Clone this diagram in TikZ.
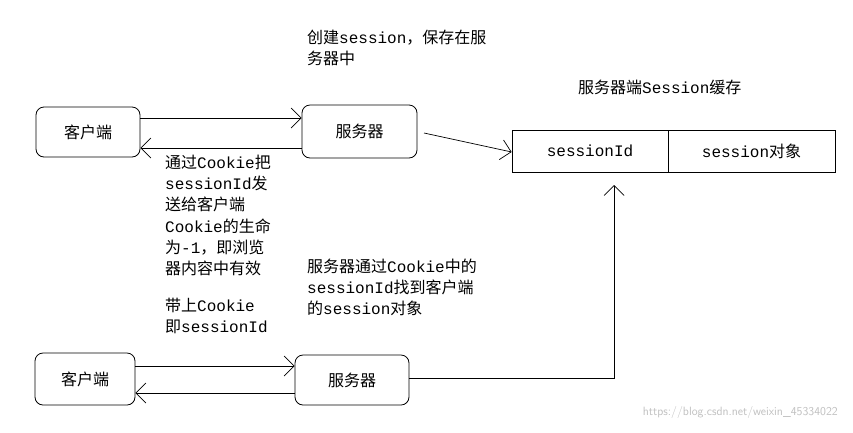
\documentclass[tikz,border=0pt]{standalone}
\usepackage{fontspec}
\setmainfont{Liberation Mono}
\newfontfamily\cjk{Noto Sans CJK SC}
\newcommand\zh[1]{{\cjk #1}}
\usetikzlibrary{arrows.meta}
\begin{document}
\begin{tikzpicture}[x=1pt,y=-1pt,
  font=\fontsize{16}{21}\selectfont,
  box/.style={draw,rounded corners=8pt,line width=0.8pt},
  arr/.style={-{Straight Barb[length=10pt,width=20pt]},line width=0.7pt},
  lbl/.style={anchor=north west,align=left,inner sep=0pt}]
\useasboundingbox (0,0) rectangle (853,432);
\node[box,minimum width=104pt,minimum height=50pt] (c1) at (88,132) {\zh{客户端}};
\node[box,minimum width=115pt,minimum height=53pt] (s1) at (359.5,131.5) {\zh{服务器}};
\node[box,minimum width=100pt,minimum height=52pt] (c2) at (85,379) {\zh{客户端}};
\node[box,minimum width=114pt,minimum height=50pt] (s2) at (352,380) {\zh{服务器}};
\node[draw,line width=0.7pt,minimum width=156pt,minimum height=42pt,inner sep=0pt] (t1) at (590,151) {sessionId};
\node[draw,line width=0.7pt,minimum width=167pt,minimum height=42pt,inner sep=0pt] (t2) at (751.5,151) {session\zh{对象}};
\draw[arr] (c1.east |- 0,118) -- (s1.west |- 0,118);
\draw[arr] (s1.west |- 0,148) -- (c1.east |- 0,148);
\draw[arr] (424,133) -- (t1.west |- 0,152);
\draw[arr] (c2.east |- 0,366) -- (s2.west |- 0,366);
\draw[arr] (s2.west |- 0,393) -- (c2.east |- 0,393);
\coordinate (bend) at (614,378);
\draw[arr] (s2.east |- bend) -- (bend) -- (614,185);
\node[lbl] (l1) at (307,30) {\zh{创建}session\zh{，保存在服}\\\zh{务器中}};
\node[lbl] (l2) at (578,80) {\zh{服务器端}Session\zh{缓存}};
\node[lbl] (l3) at (165,155) {\zh{通过}Cookie\zh{把}\\sessionId\zh{发}\\\zh{送给客户端}};
\node[lbl] (l4) at (165,219) {Cookie\zh{的生命}\\\zh{为}-1\zh{，即浏览}\\\zh{器内容中有效}};
\node[lbl] (l5) at (307,259) {\zh{服务器通过}Cookie\zh{中的}\\sessionId\zh{找到客户端}\\\zh{的}session\zh{对象}};
\node[lbl] (l6) at (165,298) {\zh{带上}Cookie\\\zh{即}sessionId};
\node[anchor=east,text=black!25,font=\fontsize{12}{13}\selectfont\sffamily,inner sep=0pt] (wm) at (838,412) {https://blog.csdn.net/weixin\_45334022};
\end{tikzpicture}
\end{document}
